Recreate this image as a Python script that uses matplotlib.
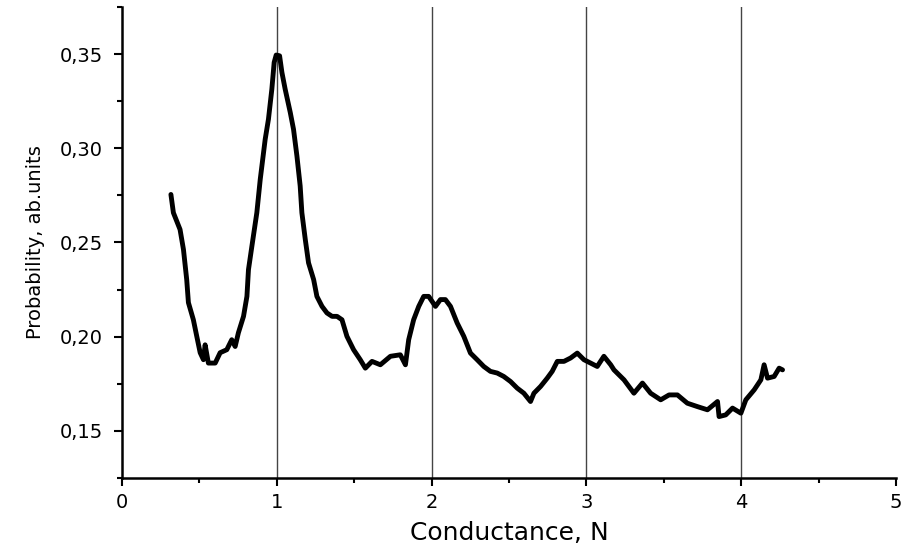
import matplotlib
matplotlib.use("Agg")
import matplotlib.pyplot as plt
from matplotlib.ticker import MultipleLocator, FuncFormatter

# data
conductance = [
    0.316, 0.332, 0.375, 0.397, 0.418, 0.429, 0.461, 0.483, 0.505, 0.526,
    0.537, 0.558, 0.602, 0.634, 0.677, 0.709, 0.731, 0.752, 0.785, 0.807,
    0.817, 0.839, 0.871, 0.893, 0.925, 0.946, 0.968, 0.983, 0.996, 1.018,
    1.033, 1.054, 1.087, 1.108, 1.130, 1.151, 1.162, 1.184, 1.205, 1.238,
    1.259, 1.292, 1.324, 1.357, 1.389, 1.421, 1.453, 1.496, 1.539, 1.572,
    1.615, 1.669, 1.734, 1.798, 1.831, 1.852, 1.884, 1.917, 1.949, 1.981,
    2.025, 2.057, 2.089, 2.122, 2.165, 2.208, 2.251, 2.294, 2.337, 2.380,
    2.424, 2.466, 2.510, 2.553, 2.596, 2.639, 2.661, 2.704, 2.747, 2.779,
    2.812, 2.855, 2.898, 2.941, 2.984, 3.027, 3.070, 3.113, 3.157, 3.178,
    3.243, 3.307, 3.362, 3.415, 3.480, 3.534, 3.588, 3.652, 3.717, 3.782,
    3.847, 3.857, 3.900, 3.944, 3.998, 4.030, 4.084, 4.127, 4.148, 4.170,
    4.213, 4.245, 4.267,
]
probability = [
    0.2755, 0.2658, 0.2569, 0.2463, 0.2303, 0.2181, 0.2090, 0.2002, 0.1915, 0.1878,
    0.1957, 0.1860, 0.1860, 0.1915, 0.1931, 0.1984, 0.1948, 0.2021, 0.2108, 0.2214,
    0.2356, 0.2480, 0.2658, 0.2835, 0.3048, 0.3154, 0.3314, 0.3456, 0.3495, 0.3491,
    0.3403, 0.3314, 0.3190, 0.3101, 0.2959, 0.2800, 0.2658, 0.2516, 0.2392, 0.2303,
    0.2214, 0.2161, 0.2126, 0.2108, 0.2108, 0.2090, 0.2002, 0.1931, 0.1878, 0.1833,
    0.1869, 0.1851, 0.1896, 0.1904, 0.1851, 0.1984, 0.2090, 0.2161, 0.2214, 0.2214,
    0.2161, 0.2197, 0.2197, 0.2161, 0.2073, 0.2002, 0.1913, 0.1878, 0.1842, 0.1816,
    0.1807, 0.1789, 0.1762, 0.1727, 0.1700, 0.1656, 0.1700, 0.1736, 0.1780, 0.1816,
    0.1869, 0.1869, 0.1887, 0.1913, 0.1878, 0.1860, 0.1842, 0.1896, 0.1851, 0.1824,
    0.1771, 0.1700, 0.1754, 0.1700, 0.1665, 0.1691, 0.1691, 0.1647, 0.1629, 0.1612,
    0.1656, 0.1576, 0.1585, 0.1621, 0.1594, 0.1665, 0.1718, 0.1771, 0.1851, 0.1780,
    0.1789, 0.1833, 0.1824,
]
plateaus = [1, 2, 3, 4]

fig = plt.figure(figsize=(9.04, 5.51), dpi=100)
ax = fig.add_axes([122 / 904, 73 / 551, 774 / 904, 471 / 551])

for xv in plateaus:
    ax.axvline(xv, color="#444444", linewidth=1.0, zorder=1)

ax.plot(conductance, probability, color="black", linewidth=3.5,
        solid_joinstyle="round", solid_capstyle="round", zorder=3)

ax.set_xlim(0, 5)
ax.set_ylim(0.125, 0.375)

ax.spines["top"].set_visible(False)
ax.spines["right"].set_visible(False)
ax.spines["left"].set_linewidth(1.8)
ax.spines["bottom"].set_linewidth(1.8)

ax.xaxis.set_major_locator(MultipleLocator(1))
ax.xaxis.set_minor_locator(MultipleLocator(0.5))
ax.yaxis.set_major_locator(MultipleLocator(0.05))
ax.yaxis.set_minor_locator(MultipleLocator(0.025))
ax.yaxis.set_major_formatter(FuncFormatter(lambda v, p: f"{v:.2f}".replace(".", ",")))

ax.tick_params(which="major", direction="out", length=6, width=1.5,
               labelsize=14, pad=5)
ax.tick_params(which="minor", direction="out", length=3.5, width=1.5)
ax.tick_params(axis="y", which="major", pad=8)

ax.set_xlabel("Conductance, N", fontsize=18, labelpad=6)
ax.set_ylabel("Probability, ab.units", fontsize=14, labelpad=10)

fig.savefig("out.png", dpi=100)
